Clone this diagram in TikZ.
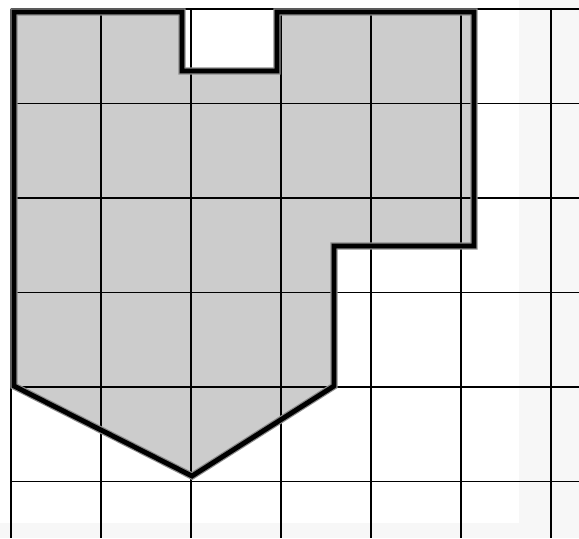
\documentclass[tikz,border=0pt]{standalone}
\usetikzlibrary{positioning}

\tikzset{
  gridline/.style={draw=black, line width=0.8pt},
  outline/.style={draw=black, line width=2.4pt, line join=miter},
  halo/.style={draw=black!45, line width=3.6pt, line join=miter},
  shade/.style={fill=black!20}
}

\begin{document}
\begin{tikzpicture}[x=0.5pt,y=-0.5pt]

% page and the faint scan bands
\fill [white] (0,0) rectangle (579,538);
\fill [black!3] (519,0) rectangle (579,538);
\fill [black!3] (0,523) rectangle (579,538);
\useasboundingbox (0,0) rectangle (579,538);

% the shaded figure
\path [shade] (14,12) -- (182,12) -- (182,71) -- (277,71) -- (277,12)
  -- (474,12) -- (474,246) -- (334,246) -- (334,386) -- (192,476)
  -- (14,386) -- cycle;

% grid
\foreach \i in {0,...,6}
{
  \draw [gridline] (11+90*\i, 9) -- (11+90*\i, 538);
}
\foreach \j in {0,...,5}
{
  \draw [gridline] (11, 9+94.5*\j) -- (579, 9+94.5*\j);
}

% border of the figure
\draw [halo] (14,12) -- (182,12) -- (182,71) -- (277,71) -- (277,12)
  -- (474,12) -- (474,246) -- (334,246) -- (334,386) -- (192,476)
  -- (14,386) -- cycle;
\draw [outline] (14,12) -- (182,12) -- (182,71) -- (277,71) -- (277,12)
  -- (474,12) -- (474,246) -- (334,246) -- (334,386) -- (192,476)
  -- (14,386) -- cycle;

\end{tikzpicture}
\end{document}
